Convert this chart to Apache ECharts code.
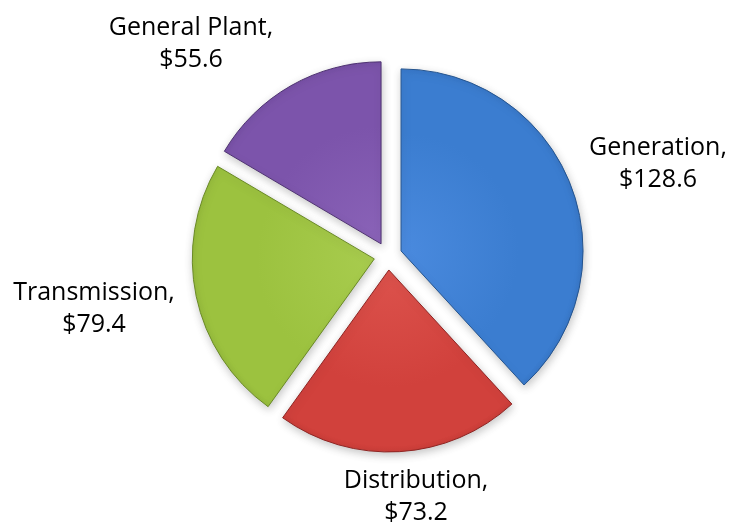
<!DOCTYPE html>
<html>
<head>
<meta charset="utf-8">
<script src="https://cdn.jsdelivr.net/npm/echarts@6/dist/echarts.min.js"></script>
<style>
  html, body { margin: 0; padding: 0; background: #ffffff; }
  #chart { width: 734px; height: 531px; }
</style>
</head>
<body>
<div id="chart"></div>
<script>
// Plant investment by function ($ millions)
const categories = ['Generation', 'Distribution', 'Transmission', 'General Plant'];
const values = [128.6, 73.2, 79.4, 55.6];

// Slice fills: [centre tone, body tone, rim tone, outline]
const palette = [
  ['#4a8ade', '#3b7dd0', '#2f69b6', '#24548f'],
  ['#dc524c', '#d1413c', '#b8332f', '#8f2523'],
  ['#a8cc4e', '#9cc23f', '#86aa33', '#6a8a26'],
  ['#8a63b8', '#7c54ab', '#684595', '#4f3372']
];

// Where each label block sits (centre of the two-line text)
const labelSpots = [
  [658, 164],
  [416, 497],
  [94, 309],
  [191, 44]
];

const cx = 388, cy = 256, R = 182;

const chart = echarts.init(document.getElementById('chart'), null, { renderer: 'canvas' });

const data = categories.map((name, i) => ({
  name: name,
  value: values[i],
  selected: true,
  itemStyle: {
    color: new echarts.graphic.RadialGradient(cx, cy, R + 14, [
      { offset: 0, color: palette[i][0] },
      { offset: 0.6, color: palette[i][1] },
      { offset: 0.9, color: palette[i][1] },
      { offset: 1, color: palette[i][2] }
    ], true),
    borderColor: palette[i][3],
    borderWidth: 1
  }
}));

// Category labels: name and value on two lines
const labelTexts = categories.map((name, i) => ({
  type: 'text',
  x: labelSpots[i][0],
  y: labelSpots[i][1],
  silent: true,
  style: {
    text: name + ',\n$' + values[i].toFixed(1),
    fontFamily: 'Open Sans',
    fontSize: 25,
    lineHeight: 32,
    fill: '#000000',
    align: 'center',
    verticalAlign: 'middle'
  }
}));

chart.setOption({
  animation: false,
  backgroundColor: '#ffffff',
  graphic: labelTexts,
  series: [{
    type: 'pie',
    center: [cx, cy],
    radius: [0, R],
    startAngle: 90,
    clockwise: true,
    selectedMode: 'multiple',
    selectedOffset: 14,
    itemStyle: {
      shadowBlur: 8,
      shadowColor: 'rgba(0,0,0,0.22)',
      shadowOffsetX: 1,
      shadowOffsetY: 3
    },
    select: { itemStyle: { shadowBlur: 8, shadowColor: 'rgba(0,0,0,0.22)' } },
    label: { show: false },
    labelLine: { show: false },
    data: data
  }]
});
</script>
</body>
</html>
